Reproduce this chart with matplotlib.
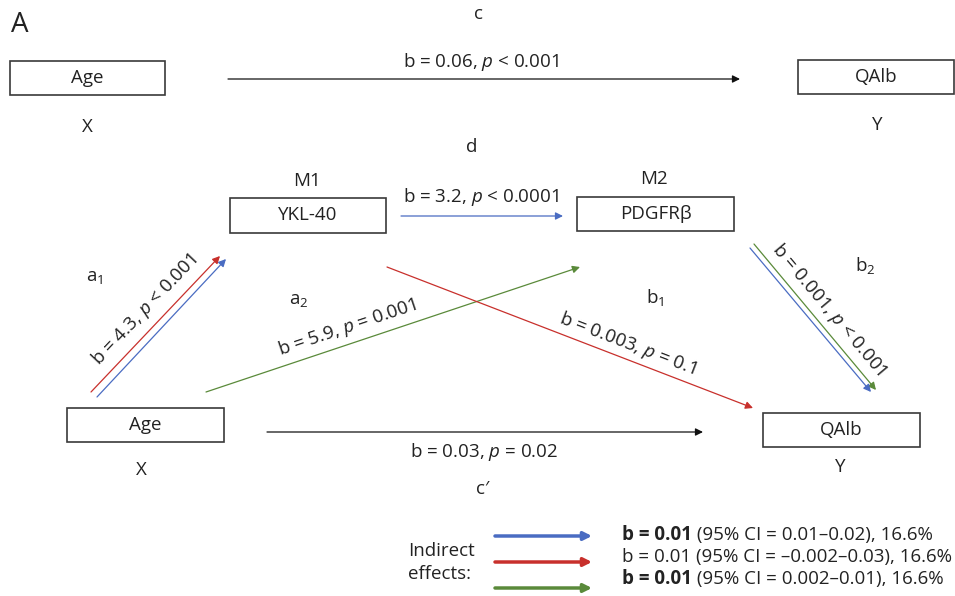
import matplotlib.pyplot as plt
from matplotlib.patches import Rectangle

plt.rcParams['font.family'] = ['Open Sans', 'DejaVu Sans']
plt.rcParams['mathtext.fontset'] = 'custom'
plt.rcParams['mathtext.rm'] = 'Open Sans'
plt.rcParams['mathtext.it'] = 'Open Sans:italic'
plt.rcParams['mathtext.bf'] = 'Open Sans:bold'

# boxes: label, x0, y0, x1, y1 (pixel coords)
box_labels = ['Age', 'QAlb', 'YKL-40', 'PDGFRβ', 'Age', 'QAlb']
box_x0 = [10, 798, 230, 577, 67, 763]
box_y0 = [61, 60, 198, 197, 408, 413]
box_x1 = [165, 954, 386, 734, 224, 920]
box_y1 = [95, 94, 233, 231, 442, 447]

# path estimates
path_c = 'b = 0.06, $p$ < 0.001'
path_d = 'b = 3.2, $p$ < 0.0001'
path_a1 = 'b = 4.3, $p$ < 0.001'
path_a2 = 'b = 5.9, $p$ = 0.001'
path_b1 = 'b = 0.003, $p$ = 0.1'
path_b2 = 'b = 0.001, $p$ < 0.001'
path_cp = 'b = 0.03, $p$ = 0.02'

effects_bold = ['b = 0.01', '', 'b = 0.01']
effects_text = ['b = 0.01 (95% CI = 0.01–0.02), 16.6%',
                'b = 0.01 (95% CI = –0.002–0.03), 16.6%',
                'b = 0.01 (95% CI = 0.002–0.01), 16.6%']
effects_rest = [' (95% CI = 0.01–0.02), 16.6%', '', ' (95% CI = 0.002–0.01), 16.6%']

blue = '#4a6cc2'
red = '#c8302c'
green = '#5a8a3a'
ink = '#222222'

fig = plt.figure(figsize=(9.55, 5.96), dpi=100)
ax = fig.add_axes([0, 0, 1, 1])
ax.set_xlim(0, 955)
ax.set_ylim(596, 0)
ax.axis('off')

fs = 13.5

for lab, x0, y0, x1, y1 in zip(box_labels, box_x0, box_y0, box_x1, box_y1):
    ax.add_patch(Rectangle((x0, y0), x1 - x0, y1 - y0, fill=False,
                           edgecolor='#3a3a3a', lw=1.2))
    ax.text((x0 + x1) / 2, (y0 + y1) / 2, lab, ha='center', va='center',
            fontsize=fs, color=ink)


def arrow(x0, y0, x1, y1, color, lw=0.9, ms=11):
    ax.annotate('', xy=(x1, y1), xytext=(x0, y0),
                arrowprops=dict(arrowstyle='-|>', color=color, lw=lw,
                                mutation_scale=ms, shrinkA=0, shrinkB=0))


def label(x, y, s, rot=0, size=fs):
    ax.text(x, y, s, ha='center', va='center', rotation=rot,
            rotation_mode='anchor', fontsize=size, color=ink)


ax.text(11, 25, 'A', ha='left', va='center', fontsize=20, color=ink)

# total effect
label(478, 14, 'c')
arrow(228, 79, 740, 79, '#111111')
label(481, 62, path_c)
label(87, 127, 'X')
label(877, 125, 'Y')

# mediation model
label(472, 147, 'd')
label(307, 181, 'M1')
label(654, 179, 'M2')
arrow(401, 216, 563, 216, blue)
label(481, 197, path_d)

arrow(91, 392, 220, 256, red)
arrow(97, 397, 226, 259, blue)
label(95, 277, 'a$_1$')
label(145, 310, path_a1, rot=46.5)

arrow(206, 392, 580, 267, green)
label(299, 300, 'a$_2$')
label(347, 328, path_a2, rot=18.5)

arrow(387, 267, 753, 408, red)
label(655, 297, 'b$_1$')
label(628, 344, path_b1, rot=-21)

arrow(754, 244, 876, 390, green)
arrow(750, 248, 871, 392, blue)
label(865, 266, 'b$_2$')
label(829, 310, path_b2, rot=-50)

arrow(267, 432, 703, 432, '#111111')
label(484, 452, path_cp)
label(483, 489, 'c′')
label(141, 470, 'X')
label(840, 467, 'Y')

# legend of indirect effects
ax.text(408, 551, 'Indirect', ha='left', va='center', fontsize=fs, color=ink)
ax.text(408, 574, 'effects:', ha='left', va='center', fontsize=fs, color=ink)
legend_y = [536, 562, 588]
text_y = [535, 557, 579]
fig.canvas.draw()
for c, ly, ty, bold, rest, full in zip([blue, red, green], legend_y, text_y,
                                       effects_bold, effects_rest, effects_text):
    arrow(495, ly, 592, ly, c, lw=2.5, ms=12)
    if bold:
        t = ax.text(622, ty, bold, ha='left', va='center', fontsize=fs,
                    fontweight='bold', color=ink)
        bb = t.get_window_extent(renderer=fig.canvas.get_renderer())
        x_end = ax.transData.inverted().transform((bb.x1, bb.y0))[0]
        ax.text(x_end, ty, rest, ha='left', va='center', fontsize=fs, color=ink)
    else:
        ax.text(622, ty, full, ha='left', va='center', fontsize=fs, color=ink)

fig.savefig('out.png', dpi=100, facecolor='white')
